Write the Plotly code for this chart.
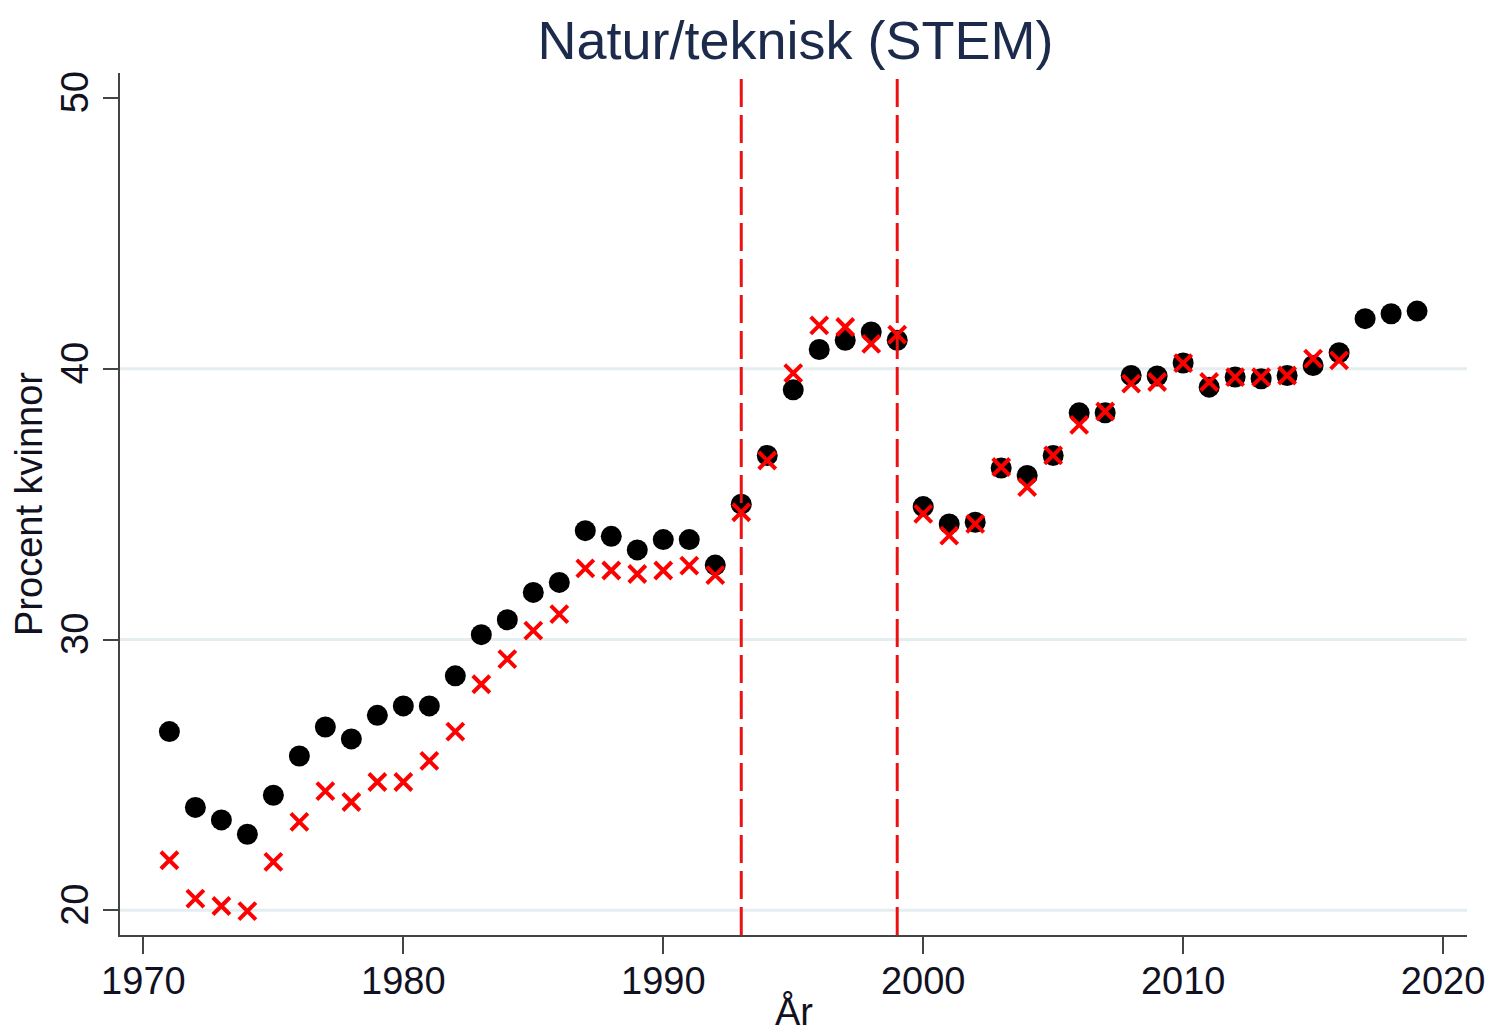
import plotly.graph_objects as go

years_all = list(range(1971, 2020))
# Black dots (all years 1971-2019)
share_black = [26.6, 23.8, 23.34, 22.81, 24.25, 25.7, 26.77, 26.33, 27.2, 27.55,
               27.55, 28.66, 30.18, 30.73, 31.74, 32.11, 34.02, 33.81, 33.31, 33.69,
               33.69, 32.75, 35.0, 36.8, 39.22, 40.71, 41.05, 41.36, 41.05, 34.91,
               34.27, 34.33, 36.33, 36.06, 36.8, 38.37, 38.37, 39.75, 39.73, 40.21,
               39.32, 39.69, 39.63, 39.75, 40.12, 40.59, 41.85, 42.03, 42.13]
# Red crosses (1971-2016)
years_red = list(range(1971, 2017))
share_red = [21.85, 20.43, 20.16, 19.97, 21.79, 23.27, 24.4, 24.0, 24.74, 24.74,
             25.52, 26.6, 28.35, 29.28, 30.33, 30.94, 32.63, 32.55, 32.42, 32.55,
             32.73, 32.38, 34.7, 36.61, 39.84, 41.6, 41.54, 40.92, 41.26, 34.64,
             33.84, 34.27, 36.37, 35.63, 36.8, 37.93, 38.42, 39.45, 39.51, 40.21,
             39.51, 39.69, 39.69, 39.75, 40.37, 40.31]

reform_years = [1993, 1999]
x_ticks = [1970, 1980, 1990, 2000, 2010, 2020]
y_ticks = [20, 30, 40, 50]
grid_values = [20, 30, 40]

FONT = "Liberation Sans, Arial, sans-serif"
TXT = "#111122"

# The page body adds an 8px offset; size the figure to fit the viewport.
W, H = 1487, 1028
L, R, T, B = 112, 28, 65, 101
plot_h = H - T - B

fig = go.Figure()

# gridlines
for g in grid_values:
    fig.add_shape(type="line", xref="paper", x0=0, x1=1, yref="y", y0=g, y1=g,
                  line=dict(color="#e4edf0", width=3), layer="below")

fig.add_trace(go.Scatter(
    x=years_all, y=share_black, mode="markers",
    marker=dict(symbol="circle", size=21, color="black"),
    showlegend=False))
fig.add_trace(go.Scatter(
    x=years_red, y=share_red, mode="markers",
    marker=dict(symbol="x-thin", size=17, color="red",
                line=dict(color="red", width=4)),
    showlegend=False))

for ry in reform_years:
    fig.add_shape(type="line", xref="x", x0=ry, x1=ry, yref="paper", y0=0, y1=1,
                  line=dict(color="#ee1111", width=3, dash="28px,8px"), layer="above")

fig.update_layout(
    width=W, height=H,
    margin=dict(l=L, r=R, t=T, b=B),
    paper_bgcolor="white", plot_bgcolor="white",
    font=dict(family=FONT, color=TXT),
    title=dict(text="Natur/teknisk (STEM)", x=0.5296, xanchor="center",
               y=1 - 32 / H, yanchor="middle", yref="container",
               font=dict(family=FONT, size=54, color="#1c2b4c")),
    annotations=[dict(text="År", xref="paper", yref="paper",
                      x=0.5, y=-(B - 1) / plot_h, xanchor="center", yanchor="bottom",
                      showarrow=False, font=dict(family=FONT, size=38, color=TXT))],
)

fig.update_xaxes(
    range=[1969.1, 2020.92], tickvals=x_ticks, ticktext=[str(v) for v in x_ticks],
    showgrid=False, zeroline=False, automargin=False,
    showline=True, linecolor="#444444", linewidth=2,
    ticks="outside", ticklen=17, tickwidth=2, tickcolor="#444444",
    ticklabelstandoff=-6,
    tickfont=dict(family=FONT, size=38, color=TXT),
)
fig.update_yaxes(
    range=[19.09, 50.92], tickvals=y_ticks, ticktext=[str(v) for v in y_ticks],
    showgrid=False, zeroline=False, automargin=False,
    showline=True, linecolor="#444444", linewidth=2,
    ticks="outside", ticklen=15, tickwidth=2, tickcolor="#444444",
    tickangle=-90,
    tickfont=dict(family=FONT, size=38, color=TXT),
    title=dict(text="Procent kvinnor", font=dict(family=FONT, size=38, color=TXT), standoff=6),
)

fig.write_html("out.html")
